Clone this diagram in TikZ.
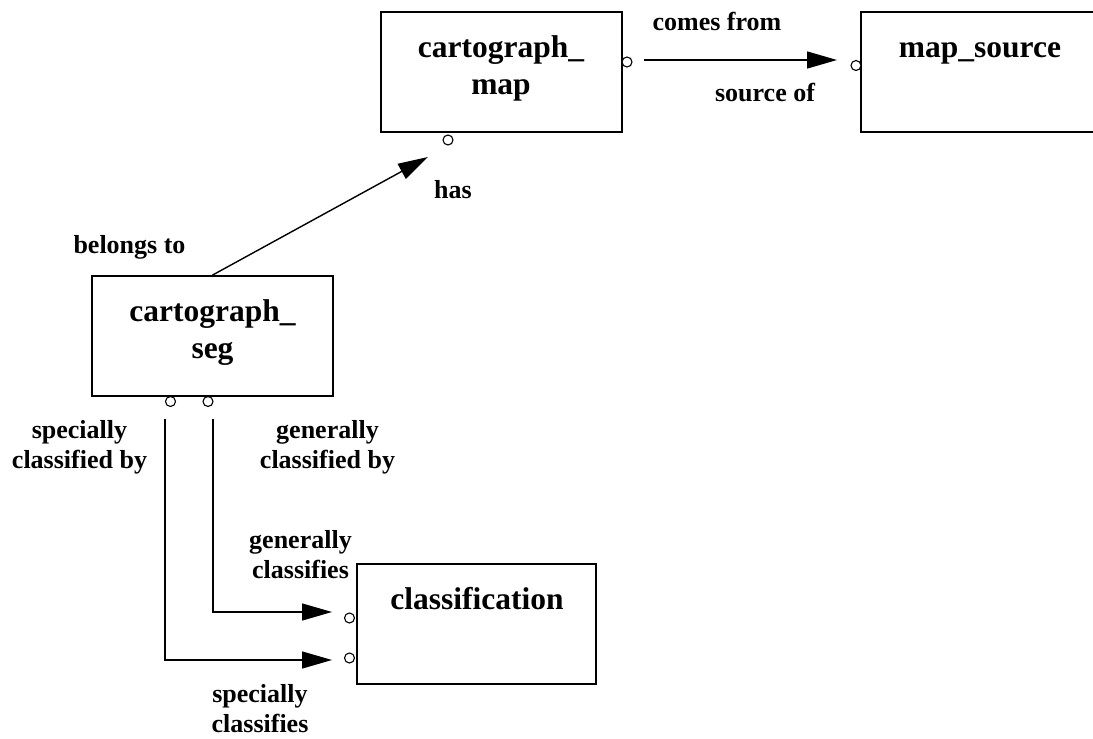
\documentclass[tikz,border=0pt]{standalone}
\usepackage{fontspec}
\setmainfont{Liberation Serif}
\usetikzlibrary{arrows.meta}

\begin{document}
\begin{tikzpicture}[x=1pt,y=-1pt,
  entity/.style={draw, line width=1.8pt, inner sep=0, minimum width=241pt, minimum height=120pt},
  port/.style={circle, draw, line width=1.1pt, inner sep=0, minimum size=10pt, fill=white},
  rel/.style={line width=1.4pt},
  relarrow/.style={rel, -{Triangle[length=30pt,width=17pt]}},
  % multi-line texts are placed by the baseline of their last line
  boxtext/.style={font=\bfseries\fontsize{31.5}{37}\selectfont, align=center, inner sep=0, anchor=base},
  roletext/.style={font=\bfseries\fontsize{26}{30}\selectfont, align=center, inner sep=0, anchor=base},
]
\useasboundingbox (0,0) rectangle (1093,739);
\clip (0,0) rectangle (1093,739);

% entities
\node[entity] (map) at (501.5,72) {};
\node[entity, minimum width=262pt] (src) at (992,72) {};
\node[entity] (seg) at (212.5,336) {};
\node[entity, minimum width=239pt] (cls) at (476.5,624) {};

\node[boxtext] (maptxt) at (501,94) {cartograph\_\\map};
\node[boxtext] (srctxt) at (980,57) {map\_source};
\node[boxtext] (segtxt) at (212.5,358) {cartograph\_\\seg};
\node[boxtext] (clstxt) at (477,609) {classification};

% relationship ports
\node[port] (mapR) at (627,62) {};
\node[port] (mapB) at (448,140) {};
\node[port] (srcL) at (856,65.5) {};
\node[port] (segS) at (170.5,401.5) {};
\node[port] (segG) at (208,401.5) {};
\node[port] (clsG) at (349.5,618) {};
\node[port] (clsS) at (349.5,658) {};

% connector end points
\coordinate (cfA) at (644,60);
\coordinate (cfB) at (837,60);
\coordinate (hasTip) at (428,157);
\coordinate (spA) at (165,419);
\coordinate (spK) at (165,660);
\coordinate (spB) at (332,660);
\coordinate (geA) at (213,419);
\coordinate (geK) at (213,612);
\coordinate (geB) at (332,612);

% connectors
\draw[relarrow] (cfA) -- (cfB);
\draw[relarrow] (seg.north) -- (hasTip);
\draw[relarrow] (spA) -- (spK) -- (spB);
\draw[relarrow] (geA) -- (geK) -- (geB);

% role names
\node[roletext] (l1) at (717,30) {comes from};
\node[roletext] (l2) at (765,101) {source of};
\node[roletext] (l3) at (453,198) {has};
\node[roletext] (l4) at (129.5,253) {belongs to};
\node[roletext] (l5) at (79.5,468) {specially\\classified by};
\node[roletext] (l6) at (327.5,468) {generally\\classified by};
\node[roletext] (l7) at (300.5,578) {generally\\classifies};
\node[roletext] (l8) at (260,732) {specially\\classifies};
\end{tikzpicture}
\end{document}
